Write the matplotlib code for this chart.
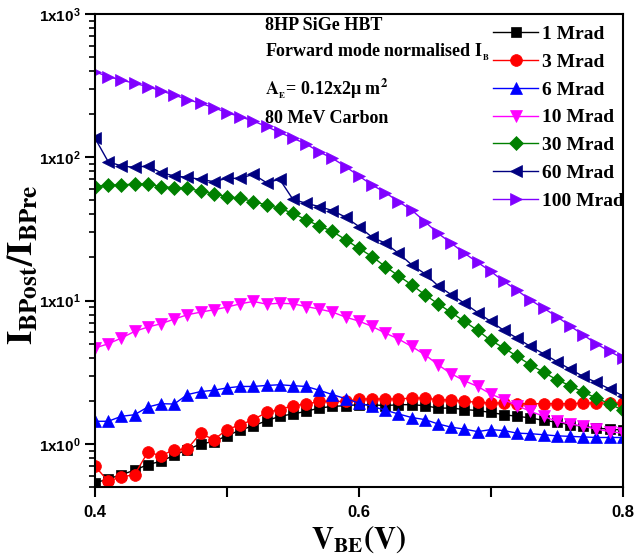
import numpy as np
import matplotlib
matplotlib.use("Agg")
import matplotlib.pyplot as plt
from matplotlib.ticker import FixedLocator, FuncFormatter, LogLocator, NullFormatter

plt.rcParams['mathtext.fontset'] = 'custom'
plt.rcParams['mathtext.rm'] = 'Liberation Sans:bold'
plt.rcParams['mathtext.bf'] = 'Liberation Sans:bold'

vbe = np.round(np.arange(0.40, 0.8001, 0.01), 2)

mrad_1 = [0.535, 0.57, 0.611, 0.656, 0.718, 0.757, 0.834, 0.913, 1.0, 1.04,
          1.14, 1.25, 1.34, 1.45, 1.56, 1.62, 1.69, 1.78, 1.83, 1.85,
          1.88, 1.88, 1.85, 1.88, 1.88, 1.85, 1.78, 1.78, 1.74, 1.71,
          1.66, 1.60, 1.56, 1.52, 1.46, 1.42, 1.36, 1.33, 1.29, 1.27, 1.25]
mrad_3 = [0.70, 0.55, 0.589, 0.611, 0.875, 0.83, 0.91, 0.923, 1.19, 1.07,
          1.26, 1.36, 1.48, 1.66, 1.74, 1.85, 1.90, 1.98, 1.98, 1.98,
          2.06, 2.06, 2.06, 2.06, 2.09, 2.09, 2.04, 2.02, 1.99, 1.95,
          1.93, 1.93, 1.91, 1.91, 1.91, 1.91, 1.91, 1.93, 1.93, 1.93, 1.93]
mrad_6 = [1.44, 1.44, 1.56, 1.60, 1.81, 1.91, 1.90, 2.21, 2.32, 2.37,
          2.46, 2.52, 2.52, 2.56, 2.59, 2.55, 2.52, 2.37, 2.21, 2.07,
          1.93, 1.83, 1.72, 1.62, 1.53, 1.48, 1.38, 1.31, 1.27, 1.22,
          1.26, 1.24, 1.19, 1.18, 1.16, 1.14, 1.13, 1.12, 1.11, 1.11, 1.11]
mrad_10 = [4.67, 5.0, 5.48, 6.1, 6.54, 6.9, 7.43, 7.97, 8.31, 8.63,
           9.01, 9.5, 9.87, 9.45, 9.6, 9.5, 9.1, 8.73, 8.32, 7.67,
           7.2, 6.61, 5.94, 5.4, 4.79, 4.2, 3.57, 3.09, 2.76, 2.52,
           2.23, 2.04, 1.85, 1.69, 1.56, 1.44, 1.38, 1.33, 1.27, 1.22, 1.19]
mrad_30 = [62.4, 64.1, 64.1, 65.1, 65.1, 62.4, 61.4, 60.8, 58.2, 55.5,
           53.2, 51.8, 49.1, 46.5, 44.1, 40.7, 36.6, 33.2, 30.4, 26.6,
           23.2, 20.3, 17.3, 14.9, 12.9, 11.0, 9.5, 8.27, 7.16, 6.2,
           5.28, 4.67, 4.08, 3.57, 3.16, 2.81, 2.55, 2.30, 2.09, 1.91, 1.72]
mrad_60 = [136, 93.2, 87.0, 85.1, 87.0, 78.2, 74.1, 72.5, 70.2, 67.6,
           71.3, 71.3, 76.1, 66.5, 70.2, 50.9, 47.8, 45.3, 42.5, 38.2,
           32.9, 27.7, 25.2, 21.4, 17.8, 15.4, 12.7, 11.0, 9.6, 8.26,
           7.16, 6.19, 5.47, 4.79, 4.26, 3.76, 3.33, 2.96, 2.69, 2.42, 2.17]
mrad_100 = [395, 365, 346, 328, 311, 291, 272, 253, 238, 222,
            205, 192, 179, 164, 149, 136, 124, 109, 98.3, 86.1,
            74.1, 64.1, 56.8, 49.1, 42.9, 35.6, 29.5, 25.2, 21.4, 18.5,
            16.0, 13.6, 11.8, 10.1, 8.86, 7.75, 6.67, 5.77, 5.0, 4.42, 3.97]

labels = ['1 Mrad', '3 Mrad', '6 Mrad', '10 Mrad', '30 Mrad', '60 Mrad', '100 Mrad']
series = [mrad_1, mrad_3, mrad_6, mrad_10, mrad_30, mrad_60, mrad_100]
colors = ['#000000', '#FF0000', '#0000FF', '#FF00FF', '#008000', '#000080', '#8000FF']
markers = ['s', 'o', '^', 'v', 'D', '<', '>']
msizes = [7.5, 8.5, 9, 9, 7.5, 9, 9]

x_ticks = [0.4, 0.5, 0.6, 0.7, 0.8]
x_ticklabels = ['0.4', '', '0.6', '', '0.8']

fig = plt.figure(figsize=(6.44, 5.58), dpi=100)
ax = fig.add_axes([0.1475, 0.127, 0.8195, 0.848])

for y, c, m, ms, lab in zip(series, colors, markers, msizes, labels):
    ax.plot(vbe, y, color=c, marker=m, markersize=ms, linewidth=1.0,
            markeredgewidth=0.5, markeredgecolor=c, label=lab, clip_on=True)

ax.set_yscale('log')
ax.set_xlim(0.4, 0.8)
ax.set_ylim(0.5, 1000)

ax.xaxis.set_major_locator(FixedLocator(x_ticks))
ax.set_xticklabels(x_ticklabels, fontfamily='Liberation Sans', fontweight='bold', fontsize=12)

ax.yaxis.set_major_locator(LogLocator(base=10, numticks=10))
ax.yaxis.set_minor_locator(LogLocator(base=10, subs=np.arange(2, 10), numticks=20))
ax.yaxis.set_minor_formatter(NullFormatter())
ax.yaxis.set_major_formatter(FuncFormatter(
    lambda v, p: r'$\mathbf{1x10^{%d}}$' % int(round(np.log10(v)))))
for t in ax.get_yticklabels():
    t.set_fontsize(11)

ax.tick_params(axis='both', which='major', direction='out', length=7, width=1.5,
               top=False, right=False)
ax.tick_params(axis='y', which='minor', direction='out', length=4, width=1.2, right=False)
ax.tick_params(axis='x', which='major', pad=6)
for s in ax.spines.values():
    s.set_linewidth(1.5)

ax.set_ylabel(r'$\mathbf{I_{BPost}/I_{BPre}}$', fontsize=26, math_fontfamily='stix')
ax.yaxis.set_label_coords(-0.107, 0.47)
ax.set_xlabel(r'$\mathbf{V_{BE}(V)}$', fontsize=22, math_fontfamily='stix', labelpad=2)

serif = dict(fontfamily='Liberation Serif', fontweight='bold', fontsize=13,
             transform=ax.transAxes, ha='left', va='center')
ax.text(0.322, 0.975, '8HP SiGe HBT', **serif)
ax.text(0.322, 0.920, r'Forward mode normalised $\mathbf{I_{_B}}$', math_fontfamily='stix', **serif)
ax.text(0.322, 0.843, r'$\mathbf{A_{_E}}$= 0.12x2μ m$\mathbf{^2}$', math_fontfamily='stix', **serif)
ax.text(0.322, 0.778, '80 MeV Carbon', **serif)

leg = ax.legend(loc='upper right', bbox_to_anchor=(1.024, 1.0), frameon=False,
                prop={'family': 'Liberation Serif', 'weight': 'bold', 'size': 14},
                handlelength=2.3, handletextpad=0.2, labelspacing=0.52,
                borderaxespad=0.2)

fig.savefig('out.png', dpi=100)
